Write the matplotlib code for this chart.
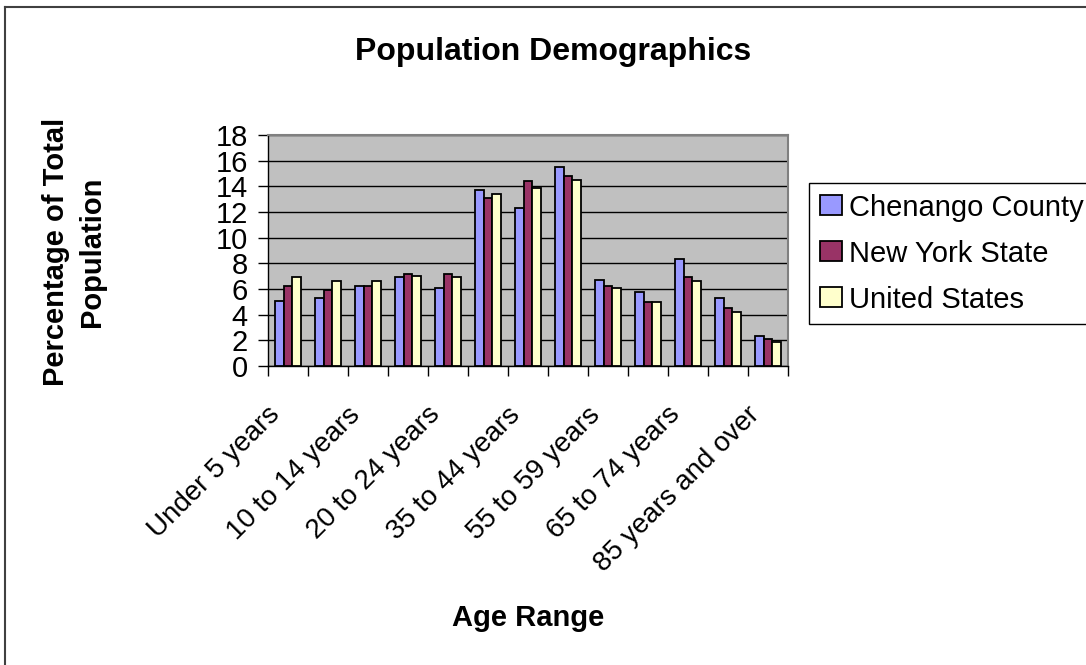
import numpy as np
import matplotlib
matplotlib.use("Agg")
import matplotlib.pyplot as plt
import matplotlib.transforms as mtransforms
from matplotlib.patches import Patch
from matplotlib.lines import Line2D

# Age ranges (every other one gets a label in the original)
age_ranges = ["Under 5 years", "5 to 9 years", "10 to 14 years", "15 to 19 years",
              "20 to 24 years", "25 to 34 years", "35 to 44 years", "45 to 54 years",
              "55 to 59 years", "60 to 64 years", "65 to 74 years", "75 to 84 years",
              "85 years and over"]

# Percentage of total population
chenango = [5.1, 5.3, 6.25, 6.9, 6.1, 13.7, 12.3, 15.5, 6.7, 5.8, 8.3, 5.3, 2.3]
new_york = [6.25, 5.9, 6.25, 7.2, 7.2, 13.1, 14.4, 14.8, 6.25, 5.0, 6.9, 4.5, 2.1]
united_states = [6.9, 6.6, 6.6, 7.0, 6.9, 13.4, 13.9, 14.5, 6.1, 5.0, 6.6, 4.2, 1.9]

series_names = ["Chenango County", "New York State", "United States"]
series_colors = ["#9999FF", "#993366", "#FFFFCC"]

plt.rcParams['font.family'] = ['Liberation Sans', 'DejaVu Sans']

W, H = 1086, 665
fig = plt.figure(figsize=(W / 100, H / 100), dpi=100)
ax = fig.add_axes([268 / W, 1 - 366 / H, (788 - 268) / W, (366 - 135) / H])
ax.set_facecolor("#C0C0C0")

x = np.arange(len(age_ranges))
bar_w = 1 / 4.5
for k, (vals, col) in enumerate(zip([chenango, new_york, united_states], series_colors)):
    ax.bar(x + (k - 1) * bar_w, vals, width=bar_w, color=col,
           edgecolor="black", linewidth=1.3, zorder=3)

ax.set_xlim(-0.5, len(age_ranges) - 0.5)
ax.set_ylim(0, 18)
ax.set_yticks(range(0, 19, 2))
ax.yaxis.grid(True, color="black", linewidth=1.0, zorder=1)
ax.set_axisbelow(True)

# ticks on the category boundaries, labels placed by hand
ax.set_xticks(np.arange(-0.5, len(age_ranges), 1))
ax.set_xticklabels([])
ax.tick_params(axis="x", direction="out", length=7.5, width=1, color="black")
ax.tick_params(axis="y", direction="out", length=7.5, width=1, color="black",
               labelsize=21, pad=7)

for side in ["left", "bottom"]:
    ax.spines[side].set_color("black")
    ax.spines[side].set_linewidth(1.0)
for side in ["top", "right"]:
    ax.spines[side].set_color("#808080")
    ax.spines[side].set_linewidth(1.5)

base = mtransforms.blended_transform_factory(ax.transData, ax.transAxes)
lab_tr = mtransforms.offset_copy(base, fig=fig, x=-12, y=-45, units="dots")
for i, name in enumerate(age_ranges):
    if i % 2 == 0:
        ax.text(i, 0, name, transform=lab_tr, rotation=45, rotation_mode="anchor",
                ha="right", va="center", fontsize=20)

fig.text(553 / W, 1 - 52 / H, "Population Demographics", ha="center", va="center",
         fontsize=23, fontweight="bold")
fig.text(74 / W, 1 - 252 / H, "Percentage of Total\nPopulation", ha="center", va="center",
         rotation=90, fontsize=21, fontweight="bold", linespacing=1.35)
fig.text(528 / W, 1 - 618 / H, "Age Range", ha="center", va="center",
         fontsize=21, fontweight="bold")

handles = [Patch(facecolor=c, edgecolor="black", linewidth=1.3) for c in series_colors]
leg = fig.legend(handles, series_names, loc="upper left",
                 bbox_to_anchor=(809 / W, 1 - 183 / H),
                 fontsize=21, frameon=True, fancybox=False, edgecolor="black",
                 handlelength=0.78, handleheight=0.68, handletextpad=0.22,
                 labelspacing=0.62, borderpad=0.36, borderaxespad=0)
leg.get_frame().set_linewidth(1.0)
leg.get_frame().set_alpha(None)

# outer chart border (right and bottom run off the picture)
fig.add_artist(Line2D([5 / W, 5 / W], [0, 1 - 7 / H], color="#404040", linewidth=1.5))
fig.add_artist(Line2D([5 / W, 1], [1 - 7 / H, 1 - 7 / H], color="#404040", linewidth=1.5))

fig.savefig("out.png", dpi=100)
